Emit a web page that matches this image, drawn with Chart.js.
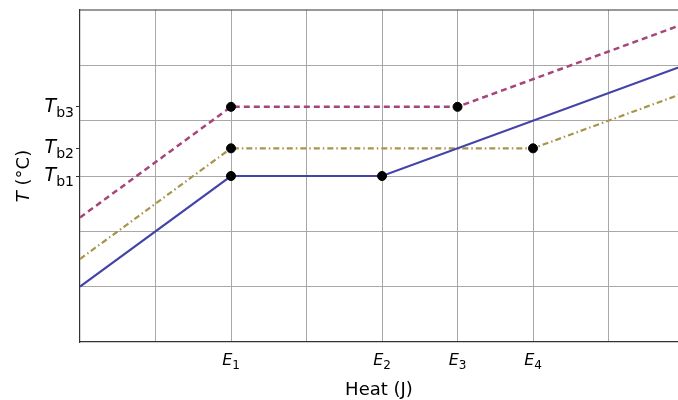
<!DOCTYPE html>
<html>
<head>
<meta charset="utf-8">
<script src="https://cdn.jsdelivr.net/npm/chart.js@4/dist/chart.umd.min.js"></script>
<style>
  html, body { margin: 0; padding: 0; background: #fff; }
  #wrap { width: 678px; height: 400px; }
</style>
</head>
<body>
<div id="wrap"><canvas id="heatChart"></canvas></div>
<script>
// Data (heat in grid units, temperature in grid units)
const heat1 = [0, 2, 4, 8];
const temp1 = [1, 3, 3, 5];
const heat2 = [0, 2, 6, 8];
const temp2 = [1.5, 3.5, 3.5, 4.5];
const heat3 = [0, 2, 5, 8];
const temp3 = [2.25, 4.25, 4.25, 5.75];

// black dots at the phase-change corners
const dotHeat = [2, 4, 2, 6, 2, 5];
const dotTemp = [3, 3, 3.5, 3.5, 4.25, 4.25];

// tick labels
const xTickValues = [2, 4, 5, 6];
const xTickMain = ['E', 'E', 'E', 'E'];
const xTickSub = ['1', '2', '3', '4'];
const yTickValues = [3, 3.5, 4.25];
const yTickMain = ['T', 'T', 'T'];
const yTickSub = ['b1', 'b2', 'b3'];
const xGrid = [1, 2, 3, 4, 5, 6, 7];
const yGrid = [1, 2, 3, 4, 5];

const toPoints = (xs, ys) => xs.map((x, i) => ({x: x, y: ys[i]}));

const FONT = `"DejaVu Sans", sans-serif`;

// draws an italic symbol followed by an upright subscript
const drawMath = (ctx, main, sub, x, baseline, size, align) => {
  const subSize = Math.round(size * 0.72);
  ctx.font = `italic ${size}px ${FONT}`;
  const w1 = ctx.measureText(main).width;
  ctx.font = `${subSize}px ${FONT}`;
  const w2 = ctx.measureText(sub).width;
  let left = x;
  if (align === `right`) left = x - w1 - w2;
  if (align === `center`) left = x - (w1 + w2) / 2;
  ctx.textAlign = `left`;
  ctx.textBaseline = `alphabetic`;
  ctx.fillStyle = `#000`;
  ctx.font = `italic ${size}px ${FONT}`;
  ctx.fillText(main, left, baseline);
  ctx.font = `${subSize}px ${FONT}`;
  ctx.fillText(sub, left + w1, baseline + size * 0.27);
};

const labelPlugin = {
  id: `labelPlugin`,
  afterDraw(chart) {
    const ctx = chart.ctx;
    const xs = chart.scales.x;
    const ys = chart.scales.y;
    const area = chart.chartArea;
    ctx.save();

    // top spine
    ctx.strokeStyle = `#333`;
    ctx.lineWidth = 1.2;
    ctx.beginPath();
    ctx.moveTo(area.left, area.top);
    ctx.lineTo(area.right, area.top);
    ctx.stroke();

    // y tick labels
    yTickValues.forEach((v, i) => {
      const py = ys.getPixelForValue(v);
      drawMath(ctx, yTickMain[i], yTickSub[i], area.left - 6, py + 5, 19, `right`);
    });

    // x tick labels
    xTickValues.forEach((v, i) => {
      const px = xs.getPixelForValue(v);
      drawMath(ctx, xTickMain[i], xTickSub[i], px, area.bottom + 23, 16, `center`);
    });

    // x axis title
    ctx.fillStyle = `#000`;
    ctx.textAlign = `center`;
    ctx.textBaseline = `alphabetic`;
    ctx.font = `18px ${FONT}`;
    ctx.fillText(`Heat (J)`, (area.left + area.right) / 2, 395);

    // y axis title
    ctx.translate(29, (area.top + area.bottom) / 2);
    ctx.rotate(-Math.PI / 2);
    ctx.font = `italic 18px ${FONT}`;
    const wT = ctx.measureText(`T`).width;
    ctx.font = `18px ${FONT}`;
    const wRest = ctx.measureText(` (°C)`).width;
    const start = -(wT + wRest) / 2;
    ctx.textAlign = `left`;
    ctx.font = `italic 18px ${FONT}`;
    ctx.fillText(`T`, start, 0);
    ctx.font = `18px ${FONT}`;
    ctx.fillText(` (°C)`, start + wT, 0);

    ctx.restore();
  }
};

const lineStyle = {
  fill: false,
  tension: 0,
  pointRadius: 0,
  pointHoverRadius: 0
};

new Chart(document.getElementById(`heatChart`), {
  type: `line`,
  data: {
    datasets: [
      {
        ...lineStyle,
        label: `dots`,
        type: `scatter`,
        data: toPoints(dotHeat, dotTemp),
        showLine: false,
        pointRadius: 4.5,
        pointBackgroundColor: `#000`,
        pointBorderColor: `#000`,
        order: 0
      },
      {
        ...lineStyle,
        label: `T1`,
        data: toPoints(heat1, temp1),
        borderColor: `#4444a8`,
        borderWidth: 2.2,
        order: 1
      },
      {
        ...lineStyle,
        label: `T2`,
        data: toPoints(heat2, temp2),
        borderColor: `#a8944a`,
        borderWidth: 2.2,
        borderDash: [6, 3, 1.5, 3],
        order: 2
      },
      {
        ...lineStyle,
        label: `T3`,
        data: toPoints(heat3, temp3),
        borderColor: `#a6457c`,
        borderWidth: 2.5,
        borderDash: [6, 4],
        order: 3
      }
    ]
  },
  options: {
    responsive: true,
    maintainAspectRatio: false,
    animation: false,
    events: [],
    layout: { autoPadding: false, padding: { top: 10, right: 0, left: 0, bottom: 0 } },
    plugins: {
      legend: { display: false },
      tooltip: { enabled: false }
    },
    scales: {
      x: {
        type: `linear`,
        min: 0,
        max: 7.92,
        afterBuildTicks: scale => { scale.ticks = xGrid.map(v => ({value: v})); },
        afterFit: scale => { scale.height = 58; },
        ticks: { display: false, autoSkip: false },
        grid: { color: `#a8a8a8`, lineWidth: 1, drawTicks: false },
        border: { display: true, color: `#333`, width: 1.2 }
      },
      y: {
        type: `linear`,
        min: 0,
        max: 6,
        afterBuildTicks: scale => {
          const all = [...new Set([...yGrid, ...yTickValues])].sort((a, b) => a - b);
          scale.ticks = all.map(v => ({value: v}));
        },
        afterFit: scale => { scale.width = 80; },
        ticks: { display: false, autoSkip: false },
        grid: {
          color: c => yGrid.includes(c.tick.value) ? `#a8a8a8` : `rgba(0,0,0,0)`,
          tickColor: c => yTickValues.includes(c.tick.value) ? `#333` : `rgba(0,0,0,0)`,
          tickLength: 4,
          lineWidth: 1
        },
        border: { display: true, color: `#333`, width: 1.2 }
      }
    }
  },
  plugins: [labelPlugin]
});
</script>
</body>
</html>
